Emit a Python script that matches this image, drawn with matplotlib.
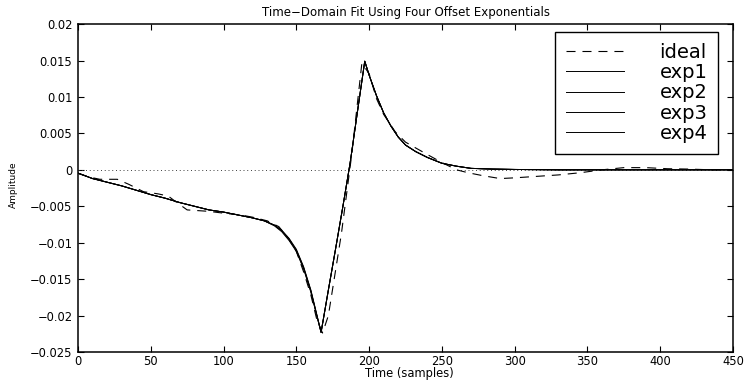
import matplotlib
matplotlib.use("Agg")
import matplotlib.pyplot as plt

# ideal response (dashed)
ideal_t = [0, 8, 15, 27, 35, 45, 55, 62, 68, 75, 90, 102, 112, 120, 130, 138,
           145, 150, 155, 160, 164, 168, 172, 176, 181, 188, 195, 200, 205, 210,
           218, 225, 232, 240, 250, 260, 268, 278, 290, 300, 315, 330, 345, 360,
           375, 390, 405, 420, 435, 450]
ideal_amp = [-0.0005, -0.0010, -0.0013, -0.0013, -0.0020, -0.0030, -0.0033, -0.0036,
             -0.0045, -0.0055, -0.0057, -0.0060, -0.0062, -0.0065, -0.0070, -0.0078,
             -0.0095, -0.0112, -0.0140, -0.0172, -0.0205, -0.0224, -0.0200, -0.0150,
             -0.0087, 0.0020, 0.0146, 0.0132, 0.0098, 0.0076,
             0.0052, 0.0038, 0.0030, 0.0021, 0.0010, 0.0000, -0.0004, -0.0008,
             -0.0012, -0.0011, -0.0009, -0.0007, -0.0004, 0.0000,
             0.0003, 0.0003, 0.00015, 0.0001, 0.0000, 0.0000]

# four offset-exponential fits (solid, nearly on top of each other)
fit_t = [0, 10, 20, 30, 40, 50, 60, 70, 80, 90, 100, 110, 120, 128, 135, 140,
         145, 150, 155, 160, 164, 167, 172, 177, 182, 187, 192, 197, 200, 205,
         210, 215, 220, 225, 232, 240, 250, 260, 270, 285, 300, 330, 360, 400, 450]
exp1_amp = [-0.00045, -0.0012, -0.0017, -0.0022, -0.0028, -0.0034, -0.0039, -0.0045,
            -0.0050, -0.0055, -0.0058, -0.0062, -0.0066, -0.0070, -0.0076, -0.0083,
            -0.0094, -0.0109, -0.0133, -0.0165, -0.0198, -0.0223, -0.0165, -0.0108,
            -0.0050, 0.0010, 0.0080, 0.0149, 0.0130, 0.0102,
            0.0078, 0.0060, 0.0045, 0.0034, 0.0025, 0.0017, 0.0009, 0.0005, 0.0002,
            0.0001, 0.00005, 0.0, 0.0, 0.0, 0.0]
exp2_amp = [-0.00045, -0.0012, -0.0017, -0.0022, -0.0028, -0.0034, -0.0039, -0.0045,
            -0.0050, -0.0055, -0.0058, -0.0062, -0.0066, -0.0070, -0.0077, -0.0085,
            -0.0097, -0.0112, -0.0136, -0.0168, -0.0200, -0.0223, -0.0165, -0.0108,
            -0.0050, 0.0010, 0.0080, 0.0149, 0.0130, 0.0102,
            0.0078, 0.0060, 0.0045, 0.0034, 0.0025, 0.0017, 0.0009, 0.0005, 0.0002,
            0.0001, 0.00005, 0.0, 0.0, 0.0, 0.0]
exp3_amp = [-0.00045, -0.0012, -0.0017, -0.0022, -0.0028, -0.0034, -0.0039, -0.0045,
            -0.0050, -0.0055, -0.0058, -0.0062, -0.0066, -0.0070, -0.0076, -0.0083,
            -0.0095, -0.0110, -0.0134, -0.0166, -0.0199, -0.0223, -0.0165, -0.0108,
            -0.0050, 0.0010, 0.0080, 0.0149, 0.0130, 0.0102,
            0.0078, 0.0060, 0.0045, 0.0034, 0.0025, 0.0017, 0.0009, 0.0005, 0.0002,
            0.0001, 0.00005, 0.0, 0.0, 0.0, 0.0]
exp4_amp = [-0.00045, -0.0012, -0.0017, -0.0022, -0.0028, -0.0034, -0.0039, -0.0045,
            -0.0050, -0.0055, -0.0058, -0.0062, -0.0066, -0.0070, -0.0076, -0.0084,
            -0.0096, -0.0111, -0.0135, -0.0167, -0.0199, -0.0223, -0.0165, -0.0108,
            -0.0050, 0.0010, 0.0080, 0.0149, 0.0130, 0.0102,
            0.0078, 0.0060, 0.0045, 0.0034, 0.0025, 0.0017, 0.0009, 0.0005, 0.0002,
            0.0001, 0.00005, 0.0, 0.0, 0.0, 0.0]

x_ticks = [0, 50, 100, 150, 200, 250, 300, 350, 400, 450]
x_labels = ["0", "50", "100", "150", "200", "250", "300", "350", "400", "450"]
y_ticks = [-0.025, -0.02, -0.015, -0.01, -0.005, 0, 0.005, 0.01, 0.015, 0.02]
y_labels = ["\u22120.025", "\u22120.02", "\u22120.015", "\u22120.01", "\u22120.005",
            "0", "0.005", "0.01", "0.015", "0.02"]

plt.rcParams["font.family"] = ["DejaVu Sans"]
plt.rcParams["lines.scale_dashes"] = False

fig = plt.figure(figsize=(7.47, 3.82), dpi=100)
ax = fig.add_axes([0.1044, 0.0785, 0.8769, 0.8585])

# zero reference line (dotted)
ax.axhline(0, color="0.25", lw=0.7, dashes=(0.7, 2.0))

ax.plot(ideal_t, ideal_amp, color="k", lw=0.8, dashes=(6.5, 5.0), label="ideal")
for amp, name in [(exp1_amp, "exp1"), (exp2_amp, "exp2"),
                  (exp3_amp, "exp3"), (exp4_amp, "exp4")]:
    ax.plot(fit_t, amp, color="k", lw=0.7, label=name)

ax.set_xlim(0, 450)
ax.set_ylim(-0.025, 0.02)
ax.set_xticks(x_ticks, x_labels)
ax.set_yticks(y_ticks, y_labels)
ax.tick_params(direction="in", top=True, right=True, length=4, width=0.8,
               labelsize=8.3)
ax.tick_params(axis="x", pad=2)
ax.tick_params(axis="y", pad=4)
for s in ax.spines.values():
    s.set_linewidth(1.1)

ax.set_title("Time\u2212Domain Fit Using Four Offset Exponentials", fontsize=8.5, pad=6)
ax.set_xlabel("Time (samples)", fontsize=8.3)
ax.set_ylabel("Amplitude", fontsize=6.5)
ax.xaxis.set_label_coords(0.506, -0.047)
ax.yaxis.set_label_coords(-0.092, 0.51)

leg = ax.legend(loc="upper right", bbox_to_anchor=(0.977, 0.9756), borderaxespad=0,
                fontsize=14, fancybox=False, framealpha=1, edgecolor="k",
                handlelength=3.0, handletextpad=1.8, labelspacing=0.07,
                borderpad=0.55)
leg.get_frame().set_linewidth(1.0)

fig.savefig("out.png", dpi=100)
